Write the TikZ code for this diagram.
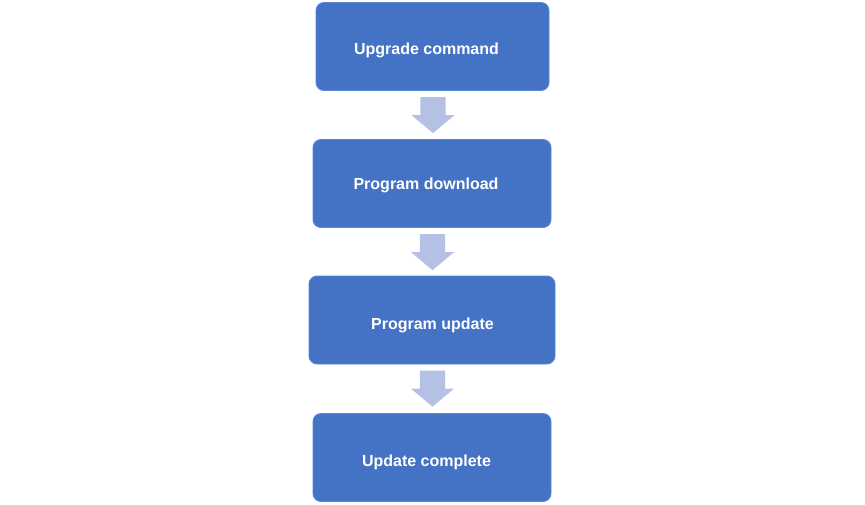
\documentclass[tikz,border=0pt]{standalone}
\usepackage{fontspec}
\setsansfont{Liberation Sans}
\usetikzlibrary{shapes.arrows, calc}
\definecolor{cbox}{HTML}{4472C4}
\definecolor{cedge}{HTML}{5A86D6}
\definecolor{carrow}{HTML}{B4C1E5}
\tikzset{
  every picture/.style={font=\sffamily\bfseries, x=1pt, y=-1pt},
  stepbox/.style={draw=cedge, fill=cbox, line width=0.9pt, rounded corners=8pt, minimum height=88pt, minimum width=#1},
  stepbox/.default=238pt,
  steptext/.style={text=white, font=\sffamily\bfseries\fontsize{16}{19}\selectfont, inner sep=0pt},
  blockarrow/.style={single arrow, draw=none, fill=carrow, rotate=-90, anchor=tail, inner sep=12.5pt, minimum height=35pt, minimum width=43pt, single arrow head extend=9pt, single arrow tip angle=100, shape border uses incircle=false},
}

\begin{document}
\begin{tikzpicture}
  \useasboundingbox (0,0) rectangle (865,504);
  % steps
  \node[stepbox=233pt] (b1) at (432.5,46.5) {};
  \node[stepbox] (b2) at (432,183.5) {};
  \node[stepbox=246pt] (b3) at (432,320) {};
  \node[stepbox] (b4) at (432,457.5) {};
  \node[steptext] (t1) at ($(b1.center)+(-6,4)$) {Upgrade command};
  \node[steptext] (t2) at ($(b2.center)+(-6,1.5)$) {Program download};
  \node[steptext] (t3) at ($(b3.center)+(0.5,5.5)$) {Program update};
  \node[steptext] (t4) at ($(b4.center)+(-5.5,5)$) {Update complete};
  % arrows between steps
  \foreach \a [count=\i] in {b1, b2, b3}
    \node[blockarrow] (a\i) at ($(\a.south)+(0.5,6)$) {};
\end{tikzpicture}
\end{document}
